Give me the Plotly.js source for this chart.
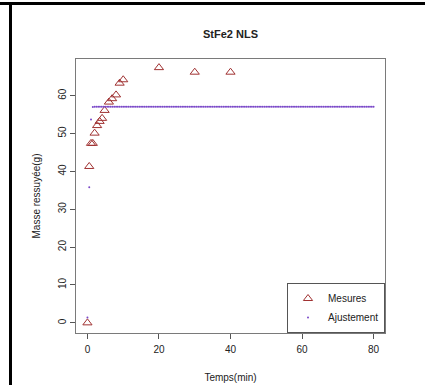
<!DOCTYPE html>
<html>
<head>
<meta charset="utf-8">
<script src="https://cdn.plot.ly/plotly-3.0.1.min.js"></script>
<style>
  html, body { margin: 0; padding: 0; background: #fff; }
  #chart { position: absolute; left: 0; top: 0; width: 425px; height: 385px; }
  #frameTop { position: absolute; left: 0; top: 2px; width: 425px; height: 3px; background: #000; }
  #frameLeft { position: absolute; left: 9px; top: 2px; width: 3px; height: 383px; background: #000; }
</style>
</head>
<body>
<div id="chart"></div>
<div id="frameTop"></div>
<div id="frameLeft"></div>
<script>
// Measured data (Mesures)
const mesTime = [0, 0.5, 1, 1.5, 2, 2.7, 3.4, 4.1, 4.8, 6, 6.9, 8, 9, 10, 20, 30, 40];
const mesMass = [0, 41.3, 47.4, 47.4, 50.1, 52.1, 53.2, 54.0, 56.1, 58.3, 59.2, 60.2, 63.3, 64.2, 67.4, 66.2, 66.2];

// Fitted curve (Ajustement)
const fitTime = [
  0,0.5,1,1.5,2,2.5,3,3.5,4,4.5,5,5.5,6,6.5,7,7.5,8,8.5,9,9.5,
  10,10.5,11,11.5,12,12.5,13,13.5,14,14.5,15,15.5,16,16.5,17,17.5,18,18.5,19,19.5,
  20,20.5,21,21.5,22,22.5,23,23.5,24,24.5,25,25.5,26,26.5,27,27.5,28,28.5,29,29.5,
  30,30.5,31,31.5,32,32.5,33,33.5,34,34.5,35,35.5,36,36.5,37,37.5,38,38.5,39,39.5,
  40,40.5,41,41.5,42,42.5,43,43.5,44,44.5,45,45.5,46,46.5,47,47.5,48,48.5,49,49.5,
  50,50.5,51,51.5,52,52.5,53,53.5,54,54.5,55,55.5,56,56.5,57,57.5,58,58.5,59,59.5,
  60,60.5,61,61.5,62,62.5,63,63.5,64,64.5,65,65.5,66,66.5,67,67.5,68,68.5,69,69.5,
  70,70.5,71,71.5,72,72.5,73,73.5,74,74.5,75,75.5,76,76.5,77,77.5,78,78.5,79,79.5,
  80
];
const fitMass = [
  1.4,35.8,53.7,57.0,57.1,57.1,57.1,57.1,57.1,57.1,57.1,57.1,57.1,57.1,57.1,57.1,57.1,57.1,57.1,57.1,
  57.1,57.1,57.1,57.1,57.1,57.1,57.1,57.1,57.1,57.1,57.1,57.1,57.1,57.1,57.1,57.1,57.1,57.1,57.1,57.1,
  57.1,57.1,57.1,57.1,57.1,57.1,57.1,57.1,57.1,57.1,57.1,57.1,57.1,57.1,57.1,57.1,57.1,57.1,57.1,57.1,
  57.1,57.1,57.1,57.1,57.1,57.1,57.1,57.1,57.1,57.1,57.1,57.1,57.1,57.1,57.1,57.1,57.1,57.1,57.1,57.1,
  57.1,57.1,57.1,57.1,57.1,57.1,57.1,57.1,57.1,57.1,57.1,57.1,57.1,57.1,57.1,57.1,57.1,57.1,57.1,57.1,
  57.1,57.1,57.1,57.1,57.1,57.1,57.1,57.1,57.1,57.1,57.1,57.1,57.1,57.1,57.1,57.1,57.1,57.1,57.1,57.1,
  57.1,57.1,57.1,57.1,57.1,57.1,57.1,57.1,57.1,57.1,57.1,57.1,57.1,57.1,57.1,57.1,57.1,57.1,57.1,57.1,
  57.1,57.1,57.1,57.1,57.1,57.1,57.1,57.1,57.1,57.1,57.1,57.1,57.1,57.1,57.1,57.1,57.1,57.1,57.1,57.1,
  57.1
];

const xTicks = [0, 20, 40, 60, 80];
const yTicks = [0, 10, 20, 30, 40, 50, 60];

const FONT = 'Liberation Sans, Arial, sans-serif';

const traces = [
  {
    x: mesTime, y: mesMass, name: 'Mesures', type: 'scatter', mode: 'markers',
    marker: { symbol: 'triangle-up-open', size: 8, color: '#a03232', line: { width: 1, color: '#a03232' } },
    cliponaxis: false
  },
  {
    x: fitTime, y: fitMass, name: 'Ajustement', type: 'scatter', mode: 'markers',
    marker: { symbol: 'circle', size: 2, color: '#7a48c8', line: { width: 0 } },
    cliponaxis: false
  }
];

const axisCommon = {
  showgrid: false, zeroline: false, showline: true, mirror: true,
  linecolor: '#7a7a7a', linewidth: 1,
  ticks: 'outside', ticklen: 5, tickwidth: 1, tickcolor: '#555',
  tickfont: { family: FONT, size: 10, color: '#222' },
  automargin: false
};

const layout = {
  width: 425, height: 385,
  paper_bgcolor: '#fff', plot_bgcolor: '#fff',
  margin: { l: 76, r: 40, t: 59, b: 52 },
  font: { family: FONT, color: '#222' },
  title: {
    text: '<b>StFe2 NLS</b>', font: { family: FONT, size: 11, color: '#222' },
    x: 0.5, xref: 'paper', y: 1 - 34 / 385, yref: 'container', yanchor: 'middle'
  },
  xaxis: Object.assign({}, axisCommon, {
    range: [-3.2, 83.2], tickmode: 'array', tickvals: xTicks, ticktext: xTicks.map(String),
    ticklabelstandoff: 2,
    title: { text: 'Temps(min)', font: { family: FONT, size: 10, color: '#222' }, standoff: 19 }
  }),
  yaxis: Object.assign({}, axisCommon, {
    range: [-2.68, 69.68], tickmode: 'array', tickvals: yTicks, ticktext: yTicks.map(String),
    tickangle: -90,
    title: { text: 'Masse ressuyée(g)', font: { family: FONT, size: 10, color: '#222' }, standoff: 14 }
  }),
  showlegend: true,
  legend: {
    x: 1, y: 0, xanchor: 'right', yanchor: 'bottom', xref: 'paper', yref: 'paper',
    bgcolor: '#fff', bordercolor: '#555', borderwidth: 1,
    font: { family: FONT, size: 10, color: '#222' },
    itemwidth: 30, tracegroupgap: 0, itemsizing: 'trace'
  }
};

Plotly.newPlot('chart', traces, layout, { displayModeBar: false, staticPlot: true });
</script>
</body>
</html>
